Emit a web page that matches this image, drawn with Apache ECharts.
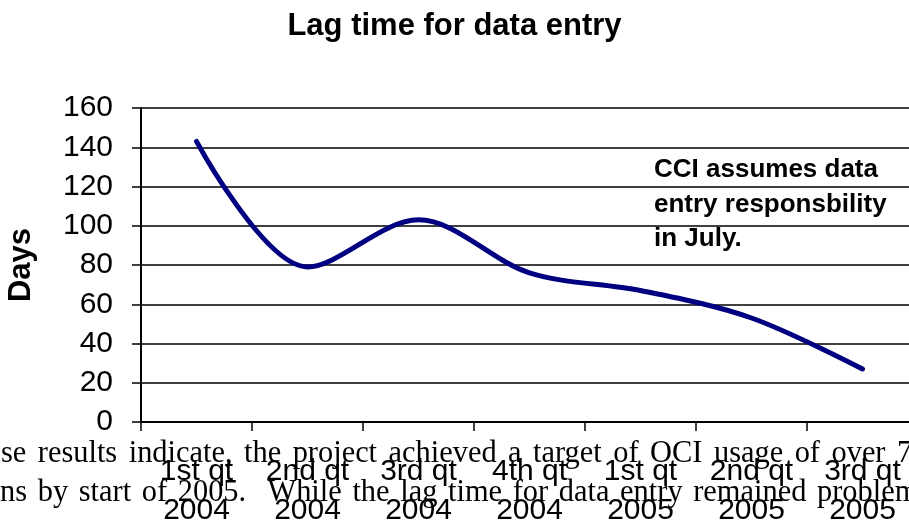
<!DOCTYPE html>
<html>
<head>
<meta charset="utf-8">
<script src="https://cdn.jsdelivr.net/npm/echarts@6/dist/echarts.min.js"></script>
<style>
  html, body { margin: 0; padding: 0; background: #fff; overflow: hidden; }
  #chart { width: 909px; height: 523px; }
</style>
</head>
<body>
<div id="chart"></div>
<script>
// quarters on the x axis
const categories = ['1st qt\n2004', '2nd qt\n2004', '3rd qt\n2004', '4th qt\n2004', '1st qt\n2005', '2nd qt\n2005', '3rd qt\n2005'];
// lag in days
const lagDays = [143, 79, 103, 76, 67, 53, 27];
const yTicks = { min: 0, max: 160, interval: 20 };
const noteLines = ['CCI assumes data', 'entry responsbility', 'in July.'];
// page text that sits behind the chart in the scan (justified lines)
const pageLines = [
  'se results indicate, the project achieved a target of OCI usage of over 75%',
  'ns by start of 2005.  While the lag time for data entry remained problematic'
];

const SERIF = '32px "Liberation Serif", "Times New Roman", serif';
const SQUEEZE = 0.95;

// spread words of a justified line so that its last word starts at lastX
const justify = (line, x0, lastX, top) => {
  const ctx = document.createElement('canvas').getContext('2d');
  ctx.font = SERIF;
  const parts = line.split(' ');
  const w = s => ctx.measureText(s).width * SQUEEZE;
  let natural = 0;
  for (let i = 0; i < parts.length - 1; i++) natural += w(parts[i]);
  const gap = (lastX - x0 - natural) / (parts.length - 1);
  const out = [];
  let x = x0;
  parts.forEach(p => {
    if (p) {
      out.push({
        type: 'text', x: x, y: top, scaleX: SQUEEZE, z: 0, silent: true,
        style: { text: p, font: SERIF, fill: '#000' }
      });
    }
    x += w(p) + gap;
  });
  return out;
};

const myChart = echarts.init(document.getElementById('chart'));

const option = {
  animation: false,
  title: {
    text: 'Lag time for data entry',
    left: 'center',
    top: 6,
    textStyle: { fontFamily: 'Liberation Sans, Arial', fontSize: 31, fontWeight: 'bold', color: '#000' }
  },
  grid: { left: 141, top: 108, width: 777, height: 314, outerBoundsMode: 'none' },
  xAxis: {
    type: 'category',
    data: categories,
    boundaryGap: true,
    axisLine: { lineStyle: { color: '#000', width: 2 } },
    axisTick: { show: true, length: 9, lineStyle: { color: '#000', width: 1.5 } },
    axisLabel: {
      interval: 0,
      margin: 30,
      fontFamily: 'Liberation Sans, Arial',
      fontSize: 30,
      lineHeight: 39,
      color: '#000'
    }
  },
  yAxis: {
    type: 'value',
    min: yTicks.min,
    max: yTicks.max,
    interval: yTicks.interval,
    name: 'Days',
    nameLocation: 'middle',
    nameRotate: 90,
    nameGap: 104,
    nameTextStyle: { fontFamily: 'Liberation Sans, Arial', fontSize: 31, fontWeight: 'bold', color: '#000' },
    axisLine: { show: true, lineStyle: { color: '#000', width: 2 } },
    axisTick: { show: true, length: 9, lineStyle: { color: '#000', width: 1.5 } },
    axisLabel: { margin: 28, fontFamily: 'Liberation Sans, Arial', fontSize: 30, color: '#000' },
    splitLine: { show: true, lineStyle: { color: '#000', width: 1.5 } }
  },
  series: [
    {
      type: 'line',
      data: lagDays,
      smooth: 0.33,
      symbol: 'none',
      lineStyle: { color: '#000080', width: 5, cap: 'round', join: 'round' }
    }
  ],
  graphic: [
    {
      type: 'text',
      left: 654,
      top: 153,
      z: 100,
      style: {
        text: noteLines.join('\n'),
        fontFamily: 'Liberation Sans, Arial',
        fontSize: 26,
        fontWeight: 'bold',
        lineHeight: 34.5,
        fill: '#000'
      }
    },
    ...justify(pageLines[0], 1, 897, 438),
    ...justify(pageLines[1], 0, 817, 477)
  ]
};

myChart.setOption(option);
</script>
</body>
</html>
